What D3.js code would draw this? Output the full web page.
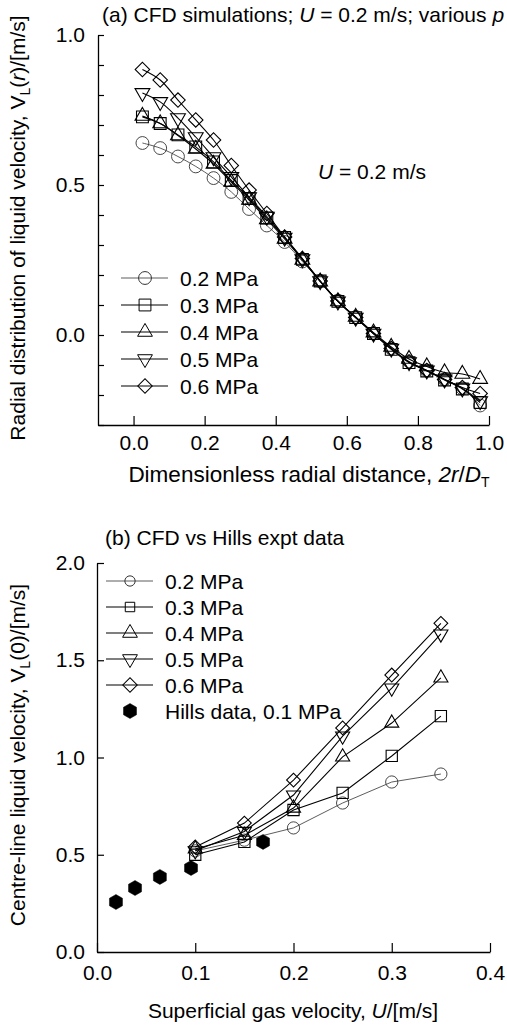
<!DOCTYPE html>
<html>
<head>
<meta charset="utf-8">
<script src="https://cdn.jsdelivr.net/npm/d3@7"></script>
<style>
  body { margin: 0; background: #fff; }
  text { font-family: "Liberation Sans", Arial, sans-serif; fill: #000; }
</style>
</head>
<body>
<div id="main"></div>
<script>
// ---- data (a): radial profiles at U = 0.2 m/s
const pressures = ['0.2 MPa', '0.3 MPa', '0.4 MPa', '0.5 MPa', '0.6 MPa'];
const radialX = [0.025, 0.075, 0.125, 0.175, 0.225, 0.275, 0.325, 0.375, 0.425, 0.475,
  0.525, 0.575, 0.625, 0.675, 0.725, 0.775, 0.825, 0.875, 0.925, 0.975];
const radial02 = [0.64, 0.623, 0.595, 0.562, 0.523, 0.477, 0.42, 0.365, 0.31, 0.245,
  0.18, 0.115, 0.06, 0.005, -0.045, -0.088, -0.118, -0.148, -0.178, -0.235];
const radial03 = [0.727, 0.705, 0.667, 0.627, 0.577, 0.515, 0.455, 0.39, 0.325, 0.252,
  0.18, 0.112, 0.058, 0.005, -0.048, -0.092, -0.12, -0.15, -0.18, -0.225];
const radial04 = [0.73, 0.705, 0.665, 0.62, 0.57, 0.51, 0.45, 0.385, 0.32, 0.25,
  0.178, 0.112, 0.06, 0.008, -0.04, -0.08, -0.105, -0.125, -0.13, -0.147];
const radial05 = [0.807, 0.777, 0.723, 0.66, 0.593, 0.527, 0.46, 0.395, 0.325, 0.253,
  0.18, 0.112, 0.058, 0.005, -0.045, -0.09, -0.118, -0.148, -0.178, -0.22];
const radial06 = [0.885, 0.85, 0.783, 0.717, 0.65, 0.565, 0.483, 0.405, 0.327, 0.255,
  0.18, 0.113, 0.058, 0.005, -0.045, -0.09, -0.118, -0.148, -0.175, -0.195];

// ---- data (b): centre-line velocity vs superficial gas velocity
const gasU = [0.1, 0.15, 0.2, 0.25, 0.3, 0.35];
const centre02 = [0.52, 0.575, 0.638, 0.766, 0.874, 0.915];
const centre03 = [0.5, 0.566, 0.73, 0.818, 1.008, 1.213];
const centre04 = [0.53, 0.6, 0.74, 1.003, 1.177, 1.409];
const centre05 = [0.52, 0.62, 0.807, 1.11, 1.357, 1.635];
const centre06 = [0.54, 0.663, 0.884, 1.152, 1.424, 1.69];
const hillsU = [0.0193, 0.0387, 0.064, 0.0957, 0.169];
const hillsV = [0.257, 0.329, 0.386, 0.432, 0.566];

const topTicksY = [-0.3, -0.2, -0.1, 0, 0.1, 0.2, 0.3, 0.4, 0.5, 0.6, 0.7, 0.8, 0.9, 1.0];
const topLabelsY = [0, 0.5, 1.0];
const topTicksX = [0, 0.2, 0.4, 0.6, 0.8, 1.0];
const botTicksY = [0, 0.5, 1.0, 1.5, 2.0];
const botTicksX = [0, 0.1, 0.2, 0.3, 0.4];

const fontSize = 21;
const markerKinds = ['circle', 'square', 'triangle', 'down', 'diamond'];

const svg = d3.select('#main')
  .append('svg')
  .attr('width', 507)
  .attr('height', 1025);

// marker path generator
function markerPath(kind, scale) {
  const s = scale || 1;
  if (kind === 'circle') return d3.symbol(d3.symbolCircle, 130 * s * s)();
  if (kind === 'square') return d3.symbol(d3.symbolSquare, 140 * s * s)();
  if (kind === 'triangle' || kind === 'down') return d3.symbol(d3.symbolTriangle, 95 * s * s)();
  if (kind === 'diamond') return d3.symbol(d3.symbolSquare, 105 * s * s)();
  if (kind === 'hex') {
    const r = 7.5 * s;
    const pts = d3.range(6).map((i) => {
      const a = Math.PI / 2 + i * Math.PI / 3;
      return [r * Math.cos(a), r * Math.sin(a)];
    });
    return 'M' + pts.map((p) => p.join(',')).join('L') + 'Z';
  }
}
function markerRotate(kind) {
  if (kind === 'down') return 180;
  if (kind === 'diamond') return 45;
  return 0;
}

function addMarkers(g, pts, kind, stroke, width, scale) {
  g.selectAll(null)
    .data(pts)
    .enter()
    .append('path')
    .attr('d', markerPath(kind, scale))
    .attr('transform', (d) => `translate(${d[0]},${d[1]}) rotate(${markerRotate(kind)})`)
    .attr('fill', kind === 'hex' ? '#000' : 'none')
    .attr('stroke', stroke)
    .attr('stroke-width', width);
}

// writes text made of parts: {t, i (italic), sub}
function richText(sel, parts) {
  parts.forEach((p) => {
    const ts = sel.append('tspan').text(p.t);
    if (p.i) ts.attr('font-style', 'italic');
    if (p.sub) ts.attr('font-size', 14).attr('dy', 5);
    if (p.up) ts.attr('dy', -5);
  });
}

function styleAxis(g) {
  g.selectAll('path.domain').attr('stroke', '#000').attr('stroke-width', 1.3);
  g.selectAll('.tick line').attr('stroke', '#000').attr('stroke-width', 1.2);
  g.selectAll('.tick text')
    .attr('font-family', '"Liberation Sans", Arial, sans-serif')
    .attr('font-size', fontSize)
    .attr('fill', '#000');
}

// ================= chart (a) =================
const xA = d3.scaleLinear().domain([-0.1, 1.0]).range([98, 489]);
const yA = d3.scaleLinear().domain([-0.3, 1.0]).range([425, 35]);

svg.append('g')
  .attr('transform', 'translate(0,425)')
  .call(d3.axisBottom(xA).tickValues(topTicksX).tickSizeInner(-9).tickSizeOuter(0)
    .tickPadding(10).tickFormat(d3.format('.1f')))
  .call(styleAxis);

svg.append('g')
  .attr('transform', 'translate(98,0)')
  .call(d3.axisLeft(yA).tickValues(topTicksY).tickSizeInner(-6).tickSizeOuter(0)
    .tickPadding(13)
    .tickFormat((d) => topLabelsY.some((v) => Math.abs(v - d) < 1e-9) ? d3.format('.1f')(d) : ''))
  .call(styleAxis);

const radialSeries = [radial02, radial03, radial04, radial05, radial06];
const lineA = d3.line().x((d) => xA(d[0])).y((d) => yA(d[1])).curve(d3.curveCatmullRom.alpha(0.5));
const plotA = svg.append('g');
radialSeries.forEach((vals, k) => {
  const pts = radialX.map((x, i) => [x, vals[i]]);
  plotA.append('path')
    .attr('d', lineA(pts))
    .attr('fill', 'none')
    .attr('stroke', k === 0 ? '#333' : '#000')
    .attr('stroke-width', k === 0 ? 0.8 : 1.1);
});
radialSeries.forEach((vals, k) => {
  const pts = radialX.map((x, i) => [xA(x), yA(vals[i])]);
  addMarkers(plotA, pts, markerKinds[k], k === 0 ? '#333' : '#000', k === 0 ? 0.9 : 1.1, 1);
});

// legend (a)
const legA = svg.append('g');
pressures.forEach((name, k) => {
  const y = 278 + k * 27;
  legA.append('line').attr('x1', 121).attr('x2', 168).attr('y1', y).attr('y2', y)
    .attr('stroke', k === 0 ? '#333' : '#000').attr('stroke-width', k === 0 ? 0.8 : 1.1);
  addMarkers(legA, [[145, y]], markerKinds[k], k === 0 ? '#333' : '#000', 1, 1);
  legA.append('text').attr('x', 180).attr('y', y + 7.5).attr('font-size', fontSize).text(name);
});

svg.append('text').attr('x', 102).attr('y', 22).attr('font-size', fontSize)
  .call(richText, [{ t: '(a) CFD simulations; ' }, { t: 'U', i: true }, { t: ' = 0.2 m/s; various ' }, { t: 'p', i: true }]);
svg.append('text').attr('x', 318).attr('y', 179).attr('font-size', fontSize)
  .call(richText, [{ t: 'U', i: true }, { t: ' = 0.2 m/s' }]);
svg.append('text').attr('x', 309).attr('y', 482).attr('font-size', 22.5).attr('text-anchor', 'middle')
  .call(richText, [{ t: 'Dimensionless radial distance, ' }, { t: '2r', i: true }, { t: '/' }, { t: 'D', i: true }, { t: 'T', sub: true }]);
svg.append('text').attr('transform', 'translate(25,228) rotate(-90)').attr('font-size', fontSize)
  .attr('text-anchor', 'middle')
  .call(richText, [{ t: 'Radial distribution of liquid velocity, V' }, { t: 'L', sub: true }, { t: '(', up: true }, { t: 'r', i: true }, { t: ')/[m/s]' }]);

// ================= chart (b) =================
const xB = d3.scaleLinear().domain([0, 0.4]).range([97, 490]);
const yB = d3.scaleLinear().domain([0, 2.0]).range([952, 563]);

svg.append('g')
  .attr('transform', 'translate(0,952)')
  .call(d3.axisBottom(xB).tickValues(botTicksX).tickSizeInner(-9).tickSizeOuter(0)
    .tickPadding(13).tickFormat(d3.format('.1f')))
  .call(styleAxis);

svg.append('g')
  .attr('transform', 'translate(97,0)')
  .call(d3.axisLeft(yB).tickValues(botTicksY).tickSizeInner(-7).tickSizeOuter(0)
    .tickPadding(12).tickFormat(d3.format('.1f')))
  .call(styleAxis);

const centreSeries = [centre02, centre03, centre04, centre05, centre06];
const lineB = d3.line().x((d) => xB(d[0])).y((d) => yB(d[1]));
const plotB = svg.append('g');
centreSeries.forEach((vals, k) => {
  const pts = gasU.map((x, i) => [x, vals[i]]);
  plotB.append('path')
    .attr('d', lineB(pts))
    .attr('fill', 'none')
    .attr('stroke', k === 0 ? '#333' : '#000')
    .attr('stroke-width', k === 0 ? 0.8 : 1.1);
});
centreSeries.forEach((vals, k) => {
  const pts = gasU.map((x, i) => [xB(x), yB(vals[i])]);
  addMarkers(plotB, pts, markerKinds[k], k === 0 ? '#333' : '#000', k === 0 ? 0.9 : 1.1, 0.95);
});
addMarkers(plotB, hillsU.map((x, i) => [xB(x), yB(hillsV[i])]), 'hex', '#000', 0.5, 1);

// legend (b)
const legB = svg.append('g');
pressures.forEach((name, k) => {
  const y = 581 + k * 26;
  legB.append('line').attr('x1', 106).attr('x2', 153).attr('y1', y).attr('y2', y)
    .attr('stroke', k === 0 ? '#333' : '#000').attr('stroke-width', k === 0 ? 0.8 : 1.1);
  addMarkers(legB, [[130, y]], markerKinds[k], k === 0 ? '#333' : '#000', 1, k < 2 ? 0.8 : 1);
  legB.append('text').attr('x', 165).attr('y', y + 7.5).attr('font-size', fontSize).text(name);
});
addMarkers(legB, [[130, 711]], 'hex', '#000', 0.5, 1);
legB.append('text').attr('x', 165).attr('y', 718.5).attr('font-size', fontSize).text('Hills data, 0.1 MPa');

svg.append('text').attr('x', 105).attr('y', 545).attr('font-size', fontSize)
  .text('(b) CFD vs Hills expt data');
svg.append('text').attr('x', 293).attr('y', 1018).attr('font-size', fontSize).attr('text-anchor', 'middle')
  .call(richText, [{ t: 'Superficial gas velocity, ' }, { t: 'U', i: true }, { t: '/[m/s]' }]);
svg.append('text').attr('transform', 'translate(25,755) rotate(-90)').attr('font-size', fontSize)
  .attr('text-anchor', 'middle')
  .call(richText, [{ t: 'Centre-line liquid velocity, V' }, { t: 'L', sub: true }, { t: '(0)/[m/s]', up: true }]);
</script>
</body>
</html>
